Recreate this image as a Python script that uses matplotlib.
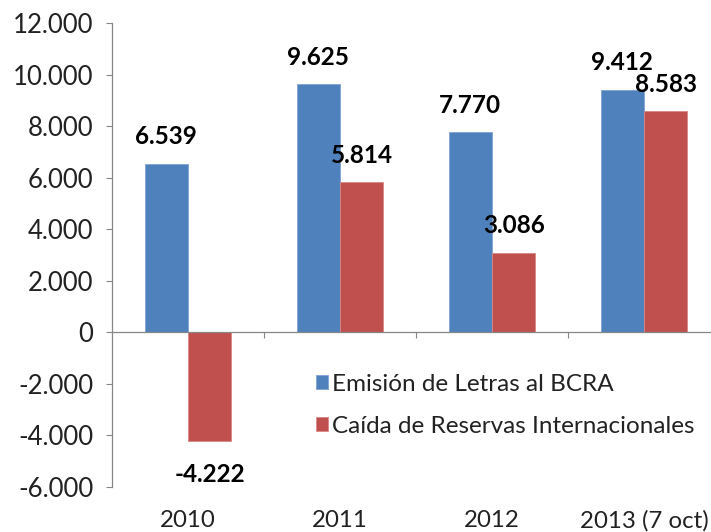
import matplotlib
matplotlib.use("Agg")
import matplotlib.pyplot as plt
import numpy as np
from matplotlib.ticker import FuncFormatter, FixedLocator

categories = ["2010", "2011", "2012", "2013 (7 oct)"]
letras = [6539, 9625, 7770, 9412]
reservas = [-4222, 5814, 3086, 8583]
series_names = ["Emisión de Letras al BCRA", "Caída de Reservas Internacionales"]
yticks = list(range(-6000, 12001, 2000))

BLUE = "#4F81BD"
RED = "#C0504D"
GRAY = "#868686"
FONT = "Lato"

W, H = 711, 532
fig = plt.figure(figsize=(W / 100, H / 100), dpi=100)
fig.patch.set_facecolor("white")

left_px, right_px, top_px, bottom_px = 112, 720, 23, 487
ax = fig.add_axes([left_px / W, 1 - bottom_px / H,
                   (right_px - left_px) / W, (bottom_px - top_px) / H])

x = np.arange(len(categories))
bw = 0.286
b1 = ax.bar(x - bw / 2, letras, bw, color=BLUE, edgecolor="#7FA3D3", linewidth=0.6,
            label=series_names[0], zorder=2)
b2 = ax.bar(x + bw / 2, reservas, bw, color=RED, edgecolor="#D88785", linewidth=0.6,
            label=series_names[1], zorder=2)

def fmt(v):
    s = f"{abs(int(v)):,}".replace(",", ".")
    return ("-" if v < 0 else "") + s

for bars, vals in ((b1, letras), (b2, reservas)):
    for rect, v in zip(bars, vals):
        cx = rect.get_x() + rect.get_width() / 2
        if v >= 0:
            ax.annotate(fmt(v), (cx, v), xytext=(0, 14), textcoords="offset points",
                        ha="center", va="baseline", fontsize=17.5, fontweight="bold",
                        family=FONT, color="black", zorder=5)
        else:
            ax.annotate(fmt(v), (cx, v), xytext=(0, -15.5), textcoords="offset points",
                        ha="center", va="top", fontsize=17.5, fontweight="bold",
                        family=FONT, color="black", zorder=5)

ax.set_xlim(-0.5, len(categories) - 0.5)
ax.set_ylim(-6000, 12000)
ax.set_yticks(yticks)
ax.yaxis.set_major_formatter(FuncFormatter(lambda v, p: fmt(v)))
ax.tick_params(axis="y", direction="out", length=4.5, width=0.8, color=GRAY,
               pad=9, labelsize=18.5, labelcolor="#222222")
for lab in ax.get_yticklabels():
    lab.set_family(FONT)

for s in ("top", "right"):
    ax.spines[s].set_visible(False)
ax.spines["left"].set_color(GRAY)
ax.spines["left"].set_linewidth(0.9)
ax.spines["bottom"].set_position(("data", 0))
ax.spines["bottom"].set_color(GRAY)
ax.spines["bottom"].set_linewidth(0.9)
ax.set_xticks([])
ax.xaxis.set_minor_locator(FixedLocator([0.5, 1.5, 2.5]))
ax.tick_params(axis="x", which="minor", direction="out", length=4.5, width=0.8,
               color=GRAY)

for xi, c in zip(x, categories):
    ax.annotate(c, (xi, 0), xycoords=("data", "axes fraction"),
                xytext=(0, -24), textcoords="offset points",
                ha="center", va="center", fontsize=17.3, family=FONT, color="#222222")

leg = ax.legend(loc="upper left", bbox_to_anchor=(316 / W, 1 - 374 / H),
                bbox_transform=fig.transFigure, frameon=False,
                prop={"family": FONT, "size": 17.5},
                handlelength=0.5, handleheight=0.5, handletextpad=0.15,
                labelspacing=0.86, borderpad=0, borderaxespad=0)
for t in leg.get_texts():
    t.set_color("#222222")

fig.savefig("out.png", dpi=100, facecolor="white")
